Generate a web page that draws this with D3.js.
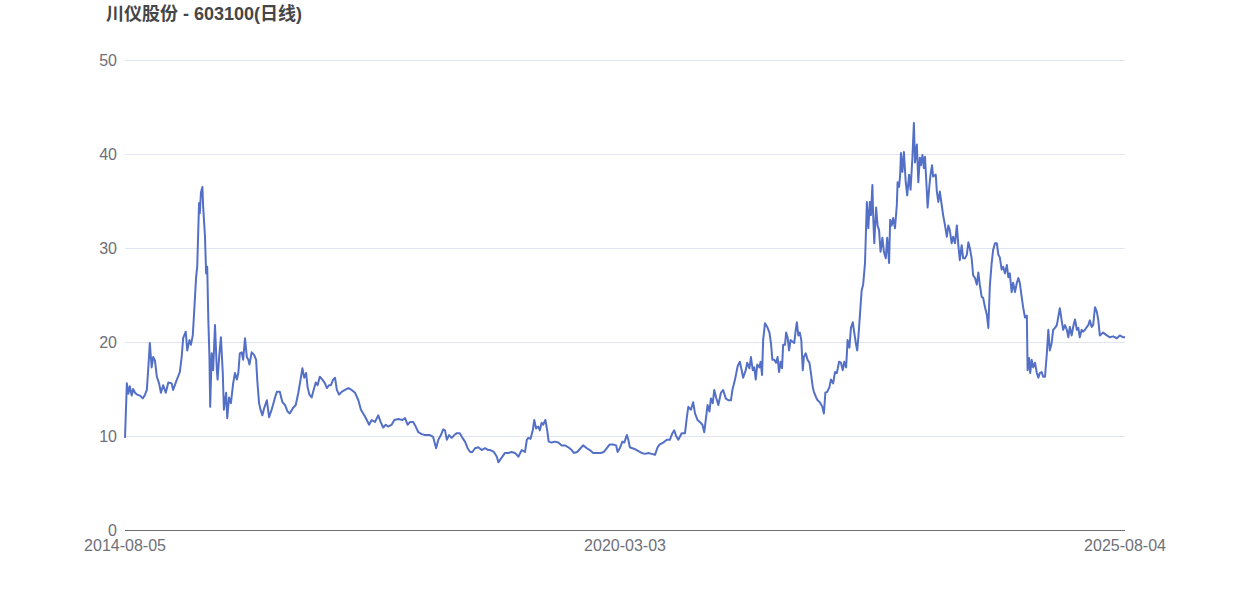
<!DOCTYPE html>
<html>
<head>
<meta charset="utf-8">
<script src="https://cdn.jsdelivr.net/npm/d3@7/dist/d3.min.js"></script>
<style>
  html, body { margin: 0; padding: 0; background: #ffffff; }
  svg { display: block; font-family: "Liberation Sans", Arial, "Noto Sans CJK SC", sans-serif; }
</style>
</head>
<body>
<svg id="chart" width="1250" height="600"></svg>
<script>
// ---- data (trading-day index from 2014-08-05, close price) ----
const titleText = "川仪股份 - 603100(日线)";
const xTickLabels = ["2014-08-05", "2020-03-03", "2025-08-04"];
const xTickDays = [0, 1350, 2700];
const yTicks = [0, 10, 20, 30, 40, 50];

const days = [
0,5,9,13,18,22,27,33,40,48,54,59,63,67,72,76,81,86,92,97,103,110,117,126,130,140,148,153,157,164,168,174,178,183,186,192,195,200,202,205,209,211,216,219,222,225,228,230,234,238,243,248,250,255,259,264,267,273,276,281,286,292,297,302,306,310,315,319,324,329,333,336,342,349,354,357,362,366,371,376,383,389,396,405,410,418,425,432,439,445,454,461,468,474,479,484,489,493,498,504,508,515,520,526,533,540,545,551,556,562,567,572,578,585,594,603,612,621,630,637,646,653,659,666,675,684,690,697,704,711,720,727,738,749,756,763,770,778,785,792,801,810,823,832,840,846,853,859,864,869,875,882,889,896,904,911,918,925,932,938,945,954,963,972,981,986,996,1004,1008,1017,1026,1035,1044,1053,1062,1071,1080,1085,1089,1095,1101,1105,1110,1116,1120,1125,1129,1135,1140,1144,1152,1161,1170,1179,1188,1197,1206,1212,1221,1230,1237,1247,1255,1264,1274,1284,1293,1301,1309,1318,1326,1330,1336,1343,1348,1355,1359,1363,1370,1377,1386,1395,1404,1413,1422,1431,1438,1444,1453,1463,1471,1478,1483,1488,1494,1503,1512,1517,1521,1528,1534,1539,1546,1552,1559,1564,1569,1573,1578,1582,1587,1591,1596,1602,1609,1615,1622,1629,1636,1640,1647,1654,1660,1665,1669,1676,1680,1686,1690,1695,1699,1703,1707,1713,1716,1720,1723,1728,1734,1740,1744,1748,1753,1758,1762,1766,1770,1774,1777,1782,1785,1789,1793,1797,1803,1807,1811,1814,1818,1822,1826,1830,1833,1838,1843,1848,1852,1857,1860,1866,1870,1876,1883,1887,1891,1896,1902,1906,1912,1917,1922,1928,1933,1938,1942,1947,1951,1956,1960,1965,1969,1974,1977,1981,1984,1989,1993,1998,2003,2007,2011,2014,2018,2020,2023,2028,2032,2036,2040,2045,2049,2054,2058,2063,2066,2070,2074,2079,2084,2086,2090,2093,2095,2099,2103,2108,2112,2117,2121,2126,2130,2133,2138,2142,2146,2149,2153,2157,2160,2165,2167,2172,2175,2179,2182,2189,2192,2196,2200,2205,2209,2214,2219,2223,2227,2232,2236,2241,2246,2250,2254,2259,2263,2268,2273,2277,2281,2286,2290,2295,2300,2304,2308,2313,2317,2322,2327,2331,2335,2340,2344,2349,2354,2358,2362,2367,2371,2376,2381,2385,2389,2394,2398,2403,2408,2412,2416,2421,2425,2430,2435,2437,2441,2444,2448,2452,2457,2462,2466,2470,2475,2479,2484,2489,2493,2497,2502,2506,2511,2516,2520,2524,2529,2533,2538,2543,2547,2551,2556,2560,2565,2570,2574,2578,2583,2587,2592,2597,2601,2605,2610,2614,2619,2624,2628,2632,2641,2651,2659,2668,2678,2686,2695,2700
];
const prices = [
9.8,15.6,14.5,15.3,14.3,15.0,14.6,14.4,14.3,14.0,14.4,14.9,17.3,19.9,17.3,18.4,18.0,16.3,15.6,14.6,15.4,14.6,15.7,15.6,14.9,16.0,16.8,18.4,20.4,21.1,19.1,20.2,19.7,20.7,22.7,26.9,28.0,34.8,33.7,35.9,36.5,34.4,31.2,27.3,28.0,22.3,18.4,13.1,18.8,17.0,21.8,17.0,16.0,18.8,20.5,16.7,12.8,14.6,11.9,14.1,13.5,15.6,16.7,16.0,16.7,18.8,18.9,18.1,20.4,18.4,18.1,17.6,18.9,18.6,18.1,16.0,13.5,12.8,12.2,13.0,13.8,12.0,12.8,14.1,14.7,14.7,13.6,13.3,12.6,12.4,13.0,13.3,14.6,16.0,17.2,16.2,16.7,15.2,14.4,14.1,14.7,15.7,15.4,16.3,16.0,15.6,15.1,15.4,15.4,16.0,16.2,14.9,14.4,14.7,14.9,15.1,14.9,14.6,13.8,12.8,12.2,11.7,11.2,11.7,11.5,12.2,11.5,10.9,11.2,11.0,11.2,11.7,11.8,11.7,11.9,11.2,11.5,11.5,11.0,10.4,10.2,10.1,10.1,9.9,8.7,9.6,10.1,10.7,10.6,9.6,10.1,9.8,10.1,10.3,10.3,9.8,9.4,8.7,8.3,8.3,8.7,8.8,8.5,8.7,8.5,8.5,8.3,7.8,7.2,7.7,8.2,8.2,8.3,8.2,7.8,8.5,8.3,9.6,9.8,9.7,10.6,11.7,10.8,11.0,10.6,11.4,11.2,11.7,10.6,9.4,9.3,9.4,9.3,9.0,9.0,8.8,8.5,8.2,8.3,8.7,9.0,8.7,8.5,8.2,8.2,8.2,8.3,8.7,9.1,9.1,9.0,8.3,8.7,9.4,9.3,10.1,9.6,8.8,8.7,8.6,8.4,8.2,8.1,8.2,8.1,8.0,8.8,9.1,9.3,9.6,9.6,10.3,10.6,10.0,9.6,10.3,10.3,12.0,13.1,12.8,13.6,12.4,11.7,11.5,11.2,10.4,12.0,13.3,12.6,14.0,13.5,14.9,14.1,13.3,14.6,14.9,14.0,13.8,13.8,14.9,16.0,17.4,17.9,17.0,16.2,17.0,17.8,17.2,18.4,17.0,17.3,16.0,17.6,17.3,17.9,16.5,20.2,22.0,21.6,21.0,19.9,18.1,18.1,17.8,18.4,16.8,17.9,17.2,19.7,19.7,21.0,20.5,19.1,20.2,20.0,19.9,21.3,22.1,20.7,21.0,20.2,17.0,18.4,18.8,18.1,17.8,16.7,15.2,14.7,14.1,13.8,13.6,13.1,12.4,14.6,14.7,15.2,16.0,15.6,16.8,16.7,17.9,17.8,17.0,17.9,17.3,20.2,19.4,21.5,22.1,21.0,19.7,19.1,21.0,22.7,25.5,26.1,28.4,34.9,32.1,34.9,33.5,36.7,33.5,30.5,34.3,32.4,31.9,29.6,31.1,29.6,28.9,31.1,28.4,33.0,32.4,33.2,32.1,34.6,37.0,36.5,37.8,40.1,38.1,40.2,37.0,35.6,37.8,36.2,39.6,43.3,39.1,41.0,37.0,39.6,38.8,39.9,38.5,39.7,36.0,34.3,36.7,37.8,38.8,37.6,37.8,36.0,34.9,36.0,34.6,33.5,32.4,31.2,32.4,31.9,30.5,31.2,30.5,32.4,30.3,28.7,30.3,28.9,28.9,29.3,30.6,30.0,28.9,27.1,26.8,26.1,27.4,26.1,24.8,24.7,23.7,22.9,21.5,25.9,28.4,29.8,30.5,30.5,29.3,29.0,27.7,28.0,27.3,28.2,26.9,27.3,25.3,26.3,25.3,26.3,26.8,26.3,24.8,23.7,22.6,22.8,17.0,18.3,16.7,18.1,17.3,17.8,16.7,16.2,16.7,16.8,16.3,16.3,18.8,21.3,19.1,19.9,21.3,21.5,21.8,22.7,23.6,22.3,21.3,21.8,21.3,20.5,21.6,20.7,21.6,22.4,21.3,21.5,20.5,21.3,21.1,21.3,21.6,21.8,22.3,21.6,21.8,23.7,23.2,22.3,20.7,21.0,20.7,20.5,20.6,20.4,20.7,20.5,20.5
];

const series = days.map((d, i) => ({ day: d, price: prices[i] }));

// ---- layout ----
const svg = d3.select("#chart");
const margin = { left: 125, right: 125, top: 60, bottom: 70 };
const W = 1250, H = 600;

const x = d3.scaleLinear().domain([0, 2700]).range([margin.left, W - margin.right]);
const y = d3.scaleLinear().domain([0, 50]).range([H - margin.bottom, margin.top]);

// grid lines
svg.append("g")
  .selectAll("line")
  .data(yTicks.filter(t => t !== 0))
  .join("line")
  .attr("x1", x.range()[0]).attr("x2", x.range()[1])
  .attr("y1", d => Math.round(y(d)) + 0.5).attr("y2", d => Math.round(y(d)) + 0.5)
  .attr("stroke", "#E0E6F1").attr("stroke-width", 1);

// y labels
svg.append("g")
  .selectAll("text")
  .data(yTicks)
  .join("text")
  .attr("x", x.range()[0] - 8)
  .attr("y", d => y(d))
  .attr("dy", "0.35em")
  .attr("text-anchor", "end")
  .attr("font-size", 16)
  .attr("fill", "#6E7079")
  .text(d => d);

// x axis line
svg.append("line")
  .attr("x1", x.range()[0]).attr("x2", x.range()[1])
  .attr("y1", Math.round(y(0)) + 0.5).attr("y2", Math.round(y(0)) + 0.5)
  .attr("stroke", "#6E7079").attr("stroke-width", 1);

// x labels
svg.append("g")
  .selectAll("text")
  .data(xTickDays)
  .join("text")
  .attr("x", d => x(d))
  .attr("y", y(0) + 8)
  .attr("dy", "0.8em")
  .attr("text-anchor", "middle")
  .attr("font-size", 16)
  .attr("fill", "#6E7079")
  .text((d, i) => xTickLabels[i]);

// line
const line = d3.line().x(d => x(d.day)).y(d => y(d.price)).curve(d3.curveLinear);
svg.append("path")
  .datum(series)
  .attr("d", line)
  .attr("fill", "none")
  .attr("stroke", "#5470C6")
  .attr("stroke-width", 2)
  .attr("stroke-linejoin", "round");

// title
svg.append("text")
  .attr("x", 106)
  .attr("y", 20)
  .attr("font-size", 18)
  .attr("font-weight", "bold")
  .attr("fill", "#464646")
  .text(titleText);
</script>
</body>
</html>
